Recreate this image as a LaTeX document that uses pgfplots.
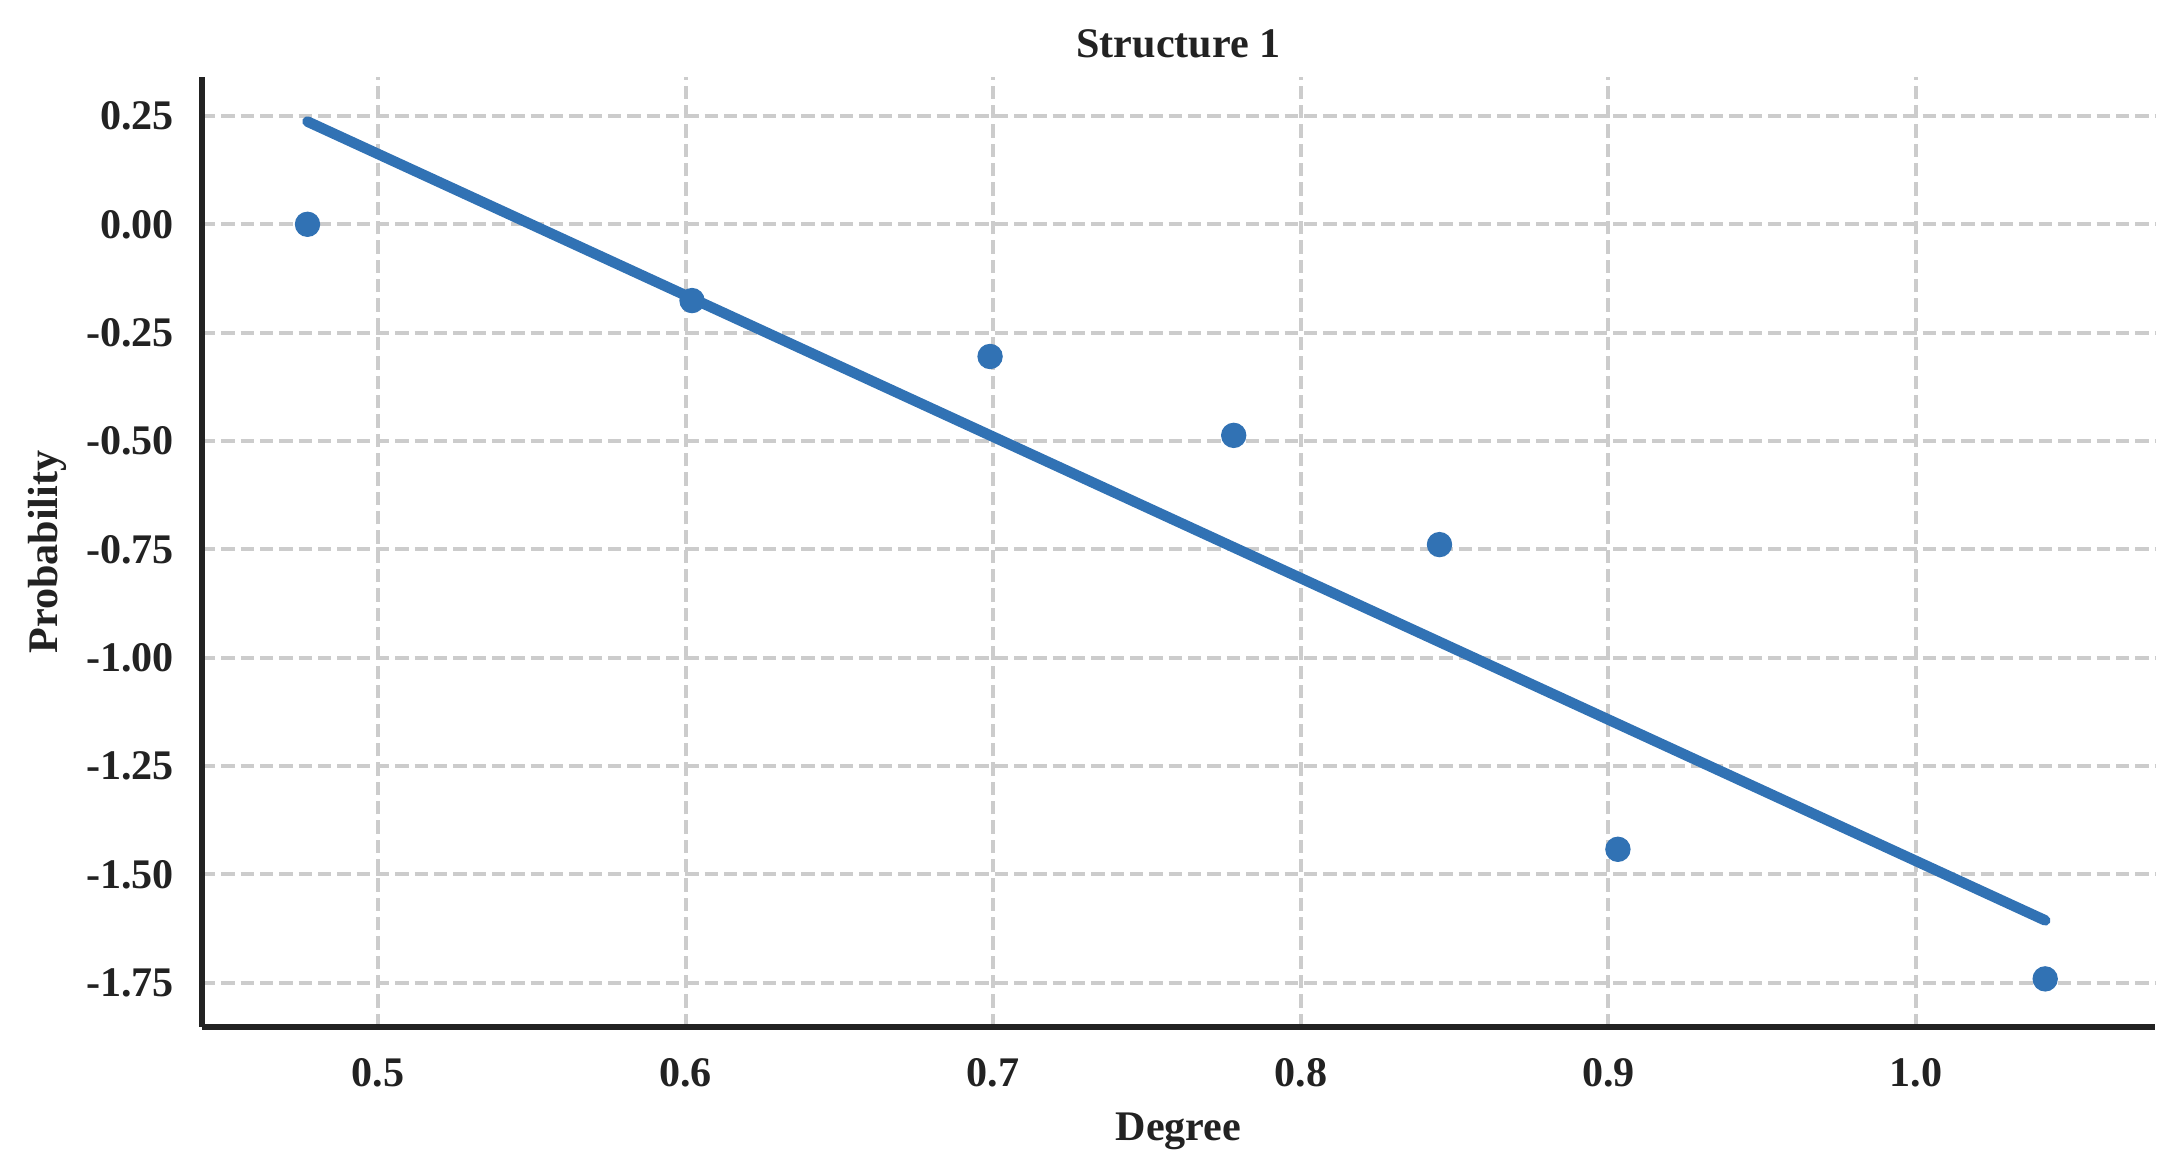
\documentclass[border=0pt]{standalone}
\usepackage{fontspec}
\setmainfont{Liberation Serif}
\usepackage{pgfplots}
\pgfplotsset{compat=1.18}

\definecolor{ptblue}{HTML}{3172B4}
\definecolor{gridgray}{HTML}{CCCCCC}
\definecolor{spine}{HTML}{222222}

\begin{document}
\begin{tikzpicture}
\fontsize{14}{16}\selectfont\bfseries
% fix the page size (720 x 385.3 bp)
\path[use as bounding box] (-66.87bp,-45.35bp) rectangle (653.13bp,339.97bp);
\begin{axis}[
  at={(0,0)}, anchor=south west,
  scale only axis,
  width=646.5bp, height=314.5bp,
  xmin=0.4428, xmax=1.0777,
  ymin=-1.852, ymax=0.340,
  xtick={0.5,0.6,...,1.0},
  ytick={-1.75,-1.5,...,0.25},
  axis x line*=bottom, axis y line*=left,
  axis line style={spine, line width=1.7bp, -},
  major tick length=0pt,
  grid=major,
  major grid style={gridgray, line width=1.3bp, dash pattern=on 4.4bp off 2bp},
  /pgf/number format/assume math mode=true,
  ticklabel style={font=\fontsize{14}{16}\selectfont\bfseries, text=spine},
  xticklabel style={/pgf/number format/.cd, fixed, fixed zerofill, precision=1, /tikz/.cd, yshift=-5.6bp},
  yticklabel style={/pgf/number format/.cd, fixed, fixed zerofill, precision=2, /tikz/.cd, xshift=-4.5pt},
  every axis title shift=0pt,
  title={Structure 1},
  title style={at={(axis description cs:0.5,1)}, anchor=base, yshift=6.3bp, inner sep=0pt, font=\fontsize{14}{16}\selectfont\bfseries, text=spine},
  xlabel={Degree},
  ylabel={Probability},
  every axis x label/.style={at={(axis description cs:0.5,0)}, anchor=north, yshift=-28.1bp, inner sep=0pt, font=\fontsize{14}{16}\selectfont\bfseries, text=spine},
  every axis y label/.style={at={(axis description cs:-0.0742,0.5)}, anchor=base, rotate=90, inner sep=0pt, font=\fontsize{14}{16}\selectfont\bfseries, text=spine},
  clip=false,
]
\addplot[ptblue, line width=3.5bp, line cap=round] coordinates {(0.4771,0.237) (1.0420,-1.606)};
\addplot[only marks, mark=*, mark size=4bp, ptblue, mark options={draw=ptblue, fill=ptblue}] coordinates {
  (0.4771,0.000) (0.6021,-0.176) (0.6990,-0.305) (0.7782,-0.487)
  (0.8451,-0.739) (0.9031,-1.442) (1.0420,-1.741)
};
\end{axis}
\end{tikzpicture}
\end{document}
